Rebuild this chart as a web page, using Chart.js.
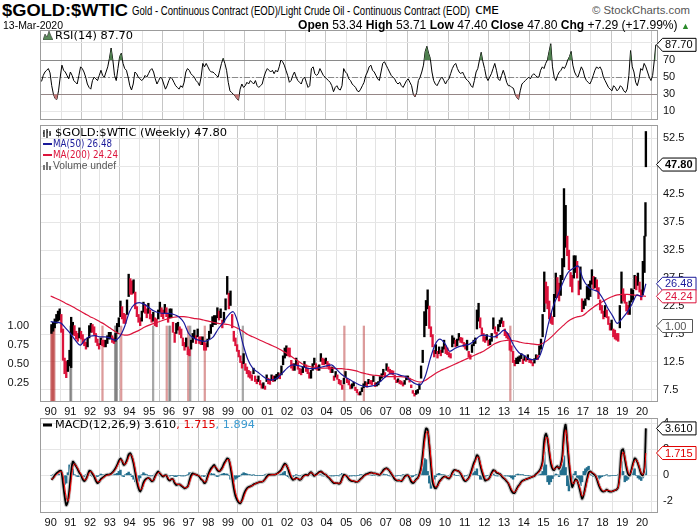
<!DOCTYPE html>
<html>
<head>
<meta charset="utf-8">
<title>$GOLD:$WTIC</title>
<script src="https://cdn.jsdelivr.net/npm/chart.js@4.4.1/dist/chart.umd.min.js"></script>
<style>
  html, body { margin: 0; padding: 0; background: #fff; }
  #page { position: relative; width: 700px; height: 530px; overflow: hidden; font-family: "Liberation Sans", Arial, sans-serif; }
  canvas { position: absolute; left: 0; }
  .txt { position: absolute; white-space: nowrap; transform-origin: 0 50%; line-height: 1; color: #000; }
  .leg { position: absolute; white-space: nowrap; font: 10px "DejaVu Sans", sans-serif; line-height: 1; transform-origin: 0 50%; }
  .ico { position: absolute; }
</style>
</head>
<body>
<div id="page">
  <canvas id="rsiChart" width="700" height="90" style="top:30px"></canvas>
  <canvas id="priceChart" width="700" height="296" style="top:124px"></canvas>
  <canvas id="macdChart" width="700" height="113" style="top:417px"></canvas>

  <div class="txt" data-w="126" style="left:2px;top:3px;font-size:16px;font-weight:bold;">$GOLD:$WTIC</div>
  <div class="txt" data-w="338" style="left:132px;top:5px;font-size:12px;">Gold - Continuous Contract (EOD)/Light Crude Oil - Continuous Contract (EOD)</div>
  <div class="txt" data-w="24" style="left:475px;top:6px;font-size:10px;font-family:'DejaVu Sans Mono',monospace;">CME</div>
  <div class="txt" data-w="98" style="left:592px;top:5px;font-size:11px;color:#555;">&copy; StockCharts.com</div>
  <div class="txt" data-w="60" style="left:3px;top:20px;font-size:11px;">13-Mar-2020</div>
  <div class="txt" data-w="392" style="left:298px;top:19px;font-size:12px;"><b>Open</b> 53.34 <b>High</b> 53.71 <b>Low</b> 47.40 <b>Close</b> 47.80 <b>Chg</b> +7.29 (+17.99%) <span style="color:#2a8a2a;font-size:9px">&#9650;</span></div>

  <svg class="ico" style="left:43px;top:31px" width="10" height="9"><path d="M0 9 L2 3 L4 6 L6 0 L8 5 L10 9 Z" fill="#5a8a5a" stroke="#333" stroke-width="0.6"/></svg>
  <div class="leg" data-w="78" style="left:55px;top:31px;">RSI(14) 87.70</div>

  <svg class="ico" style="left:43px;top:129px" width="10" height="9"><path d="M1 1 V8 M4 0 V9 M7 2 V7 M0 4 H1 M4 3 H5 M7 5 H8" stroke="#000" stroke-width="1.2"/></svg>
  <div class="leg" data-w="172" style="left:55px;top:128px;">$GOLD:$WTIC (Weekly) 47.80</div>
  <svg class="ico" style="left:43px;top:142px" width="10" height="4"><rect x="0" y="1" width="9" height="2" fill="#1a1a9a"/></svg>
  <div class="leg" data-w="59" style="left:53px;top:139px;color:#1a1a9a;">MA(50) 26.48</div>
  <svg class="ico" style="left:43px;top:153px" width="10" height="4"><rect x="0" y="1" width="9" height="2" fill="#dc143c"/></svg>
  <div class="leg" data-w="65" style="left:53px;top:150px;color:#dc143c;">MA(200) 24.24</div>
  <svg class="ico" style="left:43px;top:161px" width="10" height="9"><path d="M1 9 V4 M4 9 V1 M7 9 V5" stroke="#777" stroke-width="2"/></svg>
  <div class="txt" data-w="63" style="left:53px;top:160px;font-size:11px;color:#555;">Volume undef</div>

  <svg class="ico" style="left:43px;top:423px" width="10" height="4"><rect x="0" y="0.5" width="9" height="3" fill="#000"/></svg>
  <div class="leg" data-w="200" style="left:55px;top:420px;">MACD(12,26,9) 3.610<span style="color:#e00000">, 1.715</span><span style="color:#3b9ad0">, 1.894</span></div>
</div>

<script>
// ---------- data ----------
const START = 1990;
const LAST_T = 2020.196;          // 13-Mar-2020
const years = [1990,1991,1992,1993,1994,1995,1996,1997,1998,1999,2000,2001,2002,2003,2004,
               2005,2006,2007,2008,2009,2010,2011,2012,2013,2014,2015,2016,2017,2018,2019,2020];
const priceTicks = [7.5,10,12.5,15,17.5,20,22.5,25,27.5,30,32.5,35,37.5,40,42.5,45,47.5,50,52.5];
const volTicks = [0.25,0.5,0.75,1];
const rsiTicks = [10,20,30,40,50,60,70,80,90,100];
const macdTicks = [-2,-1,0,1,2,3,4];

// monthly low / high of the weekly bars, Jan 1990 .. Feb 2020
const priceLow = [
  17.6,18.0,18.6,19.4,19.8,20.0,17.8,12.8,10.4,9.7,10.8,11.8,
  11.5,17.4,17.2,16.6,16.2,16.8,16.6,15.8,15.4,14.8,15.2,16.8,
  17.8,17.8,17.4,16.0,15.4,14.8,15.6,15.4,15.2,15.2,15.8,16.6,
  16.6,16.0,15.8,16.2,17.6,18.8,20.6,20.2,19.4,19.4,21.0,24.2,
  24.6,24.6,24.8,22.0,20.6,19.6,19.0,19.8,21.4,21.2,20.4,21.2,
  20.2,19.6,19.8,19.0,18.8,20.2,21.4,20.6,20.2,21.2,20.6,19.6,
  20.4,20.4,17.8,16.0,17.6,18.2,17.4,16.8,15.4,14.6,15.2,13.8,
  13.6,14.8,16.0,16.8,15.8,17.0,15.8,15.6,15.6,14.6,14.6,15.2,
  16.6,17.6,18.8,19.2,19.2,20.4,20.0,20.4,18.6,19.6,21.8,24.6,
  22.0,22.6,18.6,16.2,15.4,14.4,13.4,12.4,11.4,12.2,11.0,10.4,
  9.8,9.6,9.2,10.4,9.0,8.6,9.0,8.4,7.8,7.8,7.6,9.0,
  8.6,8.5,9.2,9.0,9.1,9.4,9.6,9.5,10.2,12.0,13.2,13.6,
  13.6,13.4,11.4,11.0,11.0,12.0,11.2,10.4,10.2,10.6,11.6,10.8,
  10.4,9.6,9.6,11.0,12.0,11.2,11.0,11.0,12.6,12.0,12.0,12.2,
  11.6,11.2,10.6,10.6,9.2,9.8,9.4,8.6,8.4,7.6,8.6,9.8,
  8.8,8.4,7.7,7.8,8.2,7.4,7.0,6.6,6.6,7.2,7.9,8.3,
  8.0,8.6,8.6,8.4,9.0,8.1,8.2,8.4,9.0,9.6,10.2,9.8,
  11.0,10.8,10.4,10.3,10.2,9.4,8.8,8.9,8.6,8.5,8.2,8.5,
  9.3,9.4,8.9,7.9,6.9,6.4,6.7,6.9,7.6,9.6,12.4,17.0,
  19.0,22.0,18.5,17.0,15.2,13.4,14.0,13.2,14.0,13.6,14.2,14.8,
  14.0,13.8,13.4,13.2,15.2,15.8,15.2,15.4,16.4,16.0,15.9,15.2,
  14.8,14.6,13.4,13.0,14.2,15.4,15.8,18.4,19.8,18.6,17.4,16.2,
  16.0,16.4,15.4,15.6,16.2,18.4,17.6,16.8,18.0,18.8,19.4,18.8,
  17.2,16.8,16.6,14.6,14.4,12.4,11.8,12.2,12.2,12.6,13.1,12.2,
  12.8,12.6,12.9,12.4,12.3,11.8,12.3,13.0,12.9,13.8,14.8,17.0,
  21.5,23.0,22.0,20.2,19.4,19.2,20.6,24.0,24.0,23.4,24.4,27.2,
  29.5,33.0,31.5,29.0,26.0,25.0,27.5,28.5,27.5,24.5,25.5,21.5,
  22.0,22.6,23.8,23.6,24.2,26.4,25.6,25.8,25.2,23.8,21.8,21.2,
  20.2,20.6,20.4,19.2,18.2,18.2,17.0,16.6,16.4,16.2,18.6,23.0,
  23.4,23.0,21.6,21.0,21.0,23.2,23.6,25.6,25.4,26.2,25.0,23.6,
  24.5,28.5
];
const priceHigh = [
  19.2,19.6,20.2,21.0,21.6,22.0,21.0,18.4,13.2,12.6,12.8,14.6,
  20.5,19.6,19.0,18.0,17.6,18.6,18.0,17.4,16.6,16.0,16.8,19.0,
  19.4,19.2,18.8,17.6,16.6,15.8,16.8,16.4,16.4,16.4,17.2,17.8,
  17.8,17.2,16.8,17.6,19.4,20.4,23.4,22.4,21.2,21.0,23.6,28.2,
  27.4,27.0,27.2,25.0,22.4,21.0,20.4,21.6,23.2,22.8,22.0,23.0,
  21.8,21.0,21.4,20.4,20.2,21.8,23.2,22.2,21.8,22.8,22.2,21.2,
  22.0,22.0,19.6,17.8,19.4,19.6,18.8,18.4,16.8,16.0,16.8,15.2,
  14.8,16.4,17.6,18.2,17.2,18.4,17.0,17.0,17.0,16.0,15.8,16.6,
  18.0,19.2,20.6,20.8,20.8,22.2,21.6,22.0,20.0,21.4,23.8,27.8,
  24.8,25.2,21.0,18.0,16.8,15.6,14.6,13.6,12.6,14.0,12.2,11.6,
  11.0,10.8,10.2,11.4,10.0,9.4,10.0,9.2,8.6,8.8,8.2,10.2,
  9.6,9.4,10.2,10.0,10.0,10.3,10.6,10.4,11.8,13.6,15.0,15.4,
  15.0,15.0,12.8,12.2,12.2,13.2,12.4,11.4,11.2,11.6,12.6,12.0,
  11.4,10.6,11.0,12.2,13.2,12.2,11.8,12.0,14.0,13.2,13.0,13.2,
  12.6,12.2,11.6,11.6,10.0,10.8,10.2,9.4,9.2,8.4,9.6,10.8,
  9.6,9.2,8.4,8.6,8.9,8.0,7.6,7.0,7.2,7.9,8.6,9.0,
  8.8,9.4,9.2,9.2,10.0,8.8,8.8,9.0,9.9,10.4,11.2,10.6,
  12.2,11.6,11.2,11.0,10.9,10.1,9.3,9.5,9.2,9.1,8.8,9.2,
  10.0,10.0,9.6,8.4,7.4,6.9,7.4,7.6,8.6,11.8,14.6,21.5,
  23.5,25.4,22.5,18.8,17.4,14.6,15.6,14.4,15.2,14.6,15.2,16.4,
  15.4,15.0,14.2,14.0,17.2,16.8,16.4,16.6,17.6,16.9,16.8,16.0,
  15.8,16.4,14.4,13.8,15.6,16.4,16.8,21.8,23.0,20.4,18.6,17.6,
  17.0,17.4,16.4,16.6,17.6,20.4,18.8,17.8,19.2,20.0,20.4,19.8,
  18.4,17.8,17.6,16.8,15.4,14.4,12.8,13.2,13.4,13.6,14.0,13.0,
  13.6,13.3,13.8,13.0,12.9,12.4,13.1,13.8,13.7,15.4,16.6,21.0,
  28.6,26.8,26.0,23.4,21.2,20.6,24.6,28.4,27.6,26.6,28.0,31.0,
  43.5,40.5,35.0,32.5,28.5,28.0,31.5,31.5,30.5,27.0,29.5,23.8,
  23.4,23.8,26.0,26.4,27.0,29.0,27.8,27.6,27.2,25.8,23.6,22.6,
  21.6,22.6,21.8,20.6,19.4,20.0,18.4,18.2,17.6,17.6,22.6,28.6,
  25.6,24.6,23.2,22.6,23.4,25.6,25.4,28.0,27.8,28.4,26.8,25.4,
  30.5,35.0
];
// the two weekly bars of March 2020
const lastWeekT = [2020.175, 2020.196];
const lastWeekLow = [35.0, 47.40];
const lastWeekHigh = [41.0, 53.71];

// moving averages, quarterly from 1990.0, last point 13-Mar-2020
const ma50 = [
  19.7,19.6,19.5,18.6, 17.6,16.4,15.5,16.5, 17.1,17.2,17.0,17.0, 16.8,16.4,17.0,18.8,
  21.5,22.8,23.1,22.8, 22.2,21.6,21.3,21.2, 21.2,21.0,20.6,19.6, 17.6,16.8,16.4,16.2,
  16.4,17.0,18.4,19.5, 20.8,21.5,19.5,15.8, 13.0,11.4,10.7,10.0, 9.4,9.3,9.7,10.5,
  11.4,12.0,11.9,11.7, 11.4,11.3,11.4,11.6, 11.8,12.0,11.2,10.3, 9.7,9.2,8.7,8.3,
  8.1,8.2,8.4,9.1, 9.9,10.4,10.4,10.1, 9.9,9.2,8.6,8.4, 9.9,13.0,15.6,16.6,
  15.8,14.4,14.9,15.3, 15.5,15.7,16.3,17.1, 17.3,17.1,17.0,17.5, 18.2,17.2,15.4,14.2,
  13.7,13.1,12.9,13.2, 15.5,19.3,22.5,24.6, 26.8,28.5,29.2,29.7, 27.4,26.0,25.4,25.1,
  23.9,22.2,20.8,19.4, 20.3,21.4,22.9,24.5, 24.2,26.48
];
const ma200 = [
  24.3,23.9,23.5,23.0, 22.6,22.1,21.6,21.1, 20.6,20.2,19.7,19.2, 18.6,18.0,17.5,17.3,
  17.4,17.8,18.2,18.7, 19.1,19.4,19.7,20.0, 20.3,20.5,20.6,20.6, 20.5,20.3,20.2,20.0,
  19.8,19.6,19.4,19.3, 19.2,18.9,18.5,18.0, 17.4,17.0,16.6,16.2, 15.8,15.4,15.0,14.5,
  14.0,13.4,12.8,12.2, 11.8,11.6,11.5,11.4, 11.4,11.4,11.3,11.3, 11.2,11.1,10.9,10.6,
  10.4,10.2,10.1,10.0, 9.9,9.9,9.9,9.9, 9.8,9.5,9.1,8.9, 9.2,9.8,10.4,10.9,
  11.3,11.7,12.1,12.5, 12.9,13.3,13.7,14.1, 14.5,15.1,15.7,16.1, 16.3,16.4,16.3,16.1,
  15.9,15.8,15.7,15.6, 15.9,16.5,17.3,18.2, 19.0,19.8,20.3,20.6, 20.8,21.5,22.2,22.8,
  23.3,23.8,24.2,24.5, 24.6,24.6,24.5,24.4, 24.3,24.24
];

// weeks with a (dummy) volume of 1, up = true
const volT = [1990.03,1990.07,1990.11,1990.15,1990.19,1991.0,1991.04,1992.63,1993.27,1993.31,1993.36,
              1993.58,1995.2,1995.89,1996.02,1996.06,1996.98,1997.08,1997.82,1999.75,2004.9,2005.89,2013.32];
const volUp = [false,false,false,false,false,true,true,false,true,true,true,
               false,true,false,true,true,false,true,false,true,false,false,false];

// RSI(14), monthly, Jan 1990 .. Mar 2020
const rsi = [
  45,52,56,58,60,55,40,30,25,24,34,50,
  64,58,56,52,48,56,52,46,44,42,52,62,
  60,56,50,42,38,36,46,50,48,46,52,58,
  52,50,56,62,72,84,70,52,46,60,74,78,
  66,60,58,50,40,35,42,56,54,50,48,46,
  48,52,50,54,58,60,56,48,42,46,50,48,
  42,36,40,46,50,48,44,40,38,36,40,38,
  44,56,60,58,54,52,50,46,44,40,50,66,
  62,66,62,58,56,56,54,52,50,58,66,72,
  66,58,44,34,32,30,28,25,23,36,42,38,
  40,44,42,46,44,42,46,40,38,40,42,50,
  56,60,58,56,58,54,58,56,62,70,68,64,
  58,52,44,46,52,56,50,46,44,42,48,50,
  44,38,40,60,62,54,52,54,60,56,52,50,
  48,46,44,40,33,38,40,36,35,40,60,56,
  54,48,46,42,40,38,34,33,36,40,44,52,
  56,62,64,58,56,52,48,46,56,66,68,64,
  60,56,52,50,48,44,42,44,40,38,42,46,
  48,44,40,30,27,32,46,50,56,64,80,86,
  78,72,56,46,42,40,44,48,50,46,42,46,
  48,54,60,64,66,60,56,54,56,52,48,46,
  44,40,38,46,56,60,70,79,68,60,50,46,
  50,54,60,66,58,48,46,52,58,52,44,40,
  40,38,37,30,26,24,34,42,44,46,48,50,
  48,52,54,52,50,50,58,62,60,66,70,80,
  89,62,50,46,52,56,58,62,60,64,70,74,
  80,64,56,52,50,56,62,58,50,46,44,42,
  46,52,58,62,60,62,58,50,46,42,38,36,
  34,40,38,34,36,40,38,34,32,36,52,81,
  62,56,44,40,48,60,58,66,62,56,50,46,
  52,70,87.7
];

// MACD(12,26,9), monthly, Jan 1990 .. Mar 2020
const macd = [
  -0.35,-0.2,0.0,0.15,0.25,0.35,0.3,-0.6,-1.6,-2.3,-2.0,-1.0,
  0.3,1.05,0.9,0.7,0.45,0.2,0.0,-0.3,-0.45,-0.3,0.0,0.35,
  0.3,0.1,-0.1,-0.4,-0.6,-0.5,-0.3,-0.2,-0.1,0.0,0.05,0.05,
  0.1,0.2,0.35,0.55,0.8,1.1,1.3,1.1,0.8,0.9,1.2,1.6,
  1.7,1.4,0.9,0.2,-0.5,-1.0,-1.25,-1.0,-0.55,-0.35,-0.25,-0.2,
  -0.3,-0.45,-0.4,-0.1,0.15,0.3,0.15,0.0,-0.1,0.0,0.0,-0.3,
  -0.4,-0.3,-0.3,-0.6,-0.75,-0.7,-0.7,-0.8,-0.9,-1.0,-0.95,-0.85,
  -0.4,0.0,0.15,0.1,0.05,0.0,-0.1,-0.3,-0.4,-0.6,-0.5,-0.1,
  0.25,0.5,0.65,0.8,0.6,0.4,0.3,0.4,0.6,0.9,1.1,1.3,
  1.2,0.6,-0.2,-1.0,-1.6,-1.9,-2.1,-2.15,-1.9,-1.5,-1.2,-1.0,
  -0.9,-0.85,-0.8,-0.7,-0.65,-0.6,-0.55,-0.5,-0.5,-0.45,-0.3,-0.1,
  0.05,0.05,0.05,0.05,0.05,0.1,0.2,0.3,0.45,0.7,0.9,0.8,
  0.5,0.1,-0.2,-0.35,-0.3,-0.2,-0.25,-0.35,-0.3,-0.1,0.0,0.05,
  0.0,0.15,0.25,0.1,-0.05,0.05,0.15,0.25,0.3,0.2,0.1,0.05,
  -0.1,-0.2,-0.35,-0.5,-0.6,-0.6,-0.6,-0.65,-0.55,-0.2,0.05,0.0,
  -0.1,-0.3,-0.4,-0.45,-0.45,-0.5,-0.5,-0.45,-0.3,-0.2,-0.05,0.05,
  0.1,0.15,0.2,0.2,0.15,0.15,0.1,0.05,0.05,0.2,0.4,0.5,
  0.55,0.45,0.3,0.1,-0.1,-0.3,-0.4,-0.4,-0.4,-0.45,-0.3,-0.1,
  0.0,0.0,-0.2,-0.5,-0.6,-0.5,-0.3,-0.2,0.1,0.6,1.6,2.9,
  3.6,3.5,2.3,0.8,-0.5,-0.9,-1.0,-0.8,-0.5,-0.35,-0.2,-0.1,
  -0.1,-0.2,-0.25,-0.1,0.2,0.4,0.4,0.35,0.3,0.15,-0.1,-0.35,
  -0.45,-0.35,-0.2,0.1,0.5,0.9,1.2,1.55,1.4,0.8,0.3,-0.1,
  -0.4,-0.35,-0.3,-0.1,0.2,0.4,0.35,0.2,0.15,0.1,-0.05,-0.2,
  -0.3,-0.45,-0.6,-0.9,-1.2,-1.35,-1.35,-1.1,-0.85,-0.7,-0.5,-0.4,
  -0.35,-0.3,-0.25,-0.2,-0.15,-0.1,-0.05,0.1,0.2,0.35,0.6,1.1,
  2.7,3.2,2.8,1.8,0.9,0.5,0.4,0.6,0.7,0.5,0.8,1.5,
  3.3,3.9,2.5,1.0,-0.2,-0.9,-0.6,-0.3,-0.4,-0.8,-1.3,-1.8,
  -1.5,-0.9,-0.3,0.2,0.3,0.2,0.1,0.0,-0.3,-0.7,-1.0,-1.2,
  -1.25,-1.2,-1.1,-1.2,-1.25,-1.25,-1.2,-1.15,-1.1,-0.9,0.2,1.9,
  2.0,1.3,0.6,0.1,0.0,0.4,0.9,1.3,1.2,0.9,0.5,0.1,
  0.0,0.6,3.61
];
const signal = [
  -0.3,-0.25,-0.1,0.05,0.15,0.25,0.3,0.0,-0.9,-1.7,-2.0,-1.5,
  -0.4,0.6,0.9,0.75,0.55,0.3,0.1,-0.15,-0.35,-0.35,-0.1,0.2,
  0.3,0.2,0.0,-0.25,-0.5,-0.5,-0.4,-0.25,-0.15,-0.05,0.0,0.05,
  0.05,0.15,0.3,0.45,0.7,0.95,1.2,1.15,0.9,0.85,1.05,1.4,
  1.6,1.5,1.1,0.5,-0.2,-0.75,-1.1,-1.05,-0.75,-0.45,-0.3,-0.2,
  -0.25,-0.4,-0.4,-0.2,0.05,0.2,0.2,0.05,-0.05,-0.05,0.0,-0.2,
  -0.35,-0.3,-0.3,-0.5,-0.65,-0.7,-0.7,-0.75,-0.85,-0.95,-0.95,-0.9,
  -0.6,-0.2,0.05,0.1,0.05,0.0,-0.05,-0.2,-0.35,-0.5,-0.5,-0.25,
  0.1,0.35,0.55,0.7,0.65,0.5,0.35,0.35,0.5,0.75,1.0,1.2,
  1.2,0.85,0.2,-0.6,-1.3,-1.7,-2.0,-2.1,-2.0,-1.7,-1.35,-1.1,
  -0.95,-0.9,-0.8,-0.75,-0.65,-0.6,-0.55,-0.5,-0.5,-0.45,-0.35,-0.2,
  -0.05,0.0,0.05,0.05,0.05,0.1,0.15,0.25,0.35,0.6,0.8,0.8,
  0.6,0.3,-0.05,-0.25,-0.3,-0.25,-0.25,-0.3,-0.3,-0.15,-0.05,0.0,
  0.0,0.1,0.2,0.15,0.0,0.0,0.1,0.2,0.25,0.25,0.15,0.05,
  -0.05,-0.15,-0.3,-0.45,-0.55,-0.6,-0.6,-0.6,-0.6,-0.35,-0.05,0.0,
  -0.05,-0.2,-0.35,-0.4,-0.45,-0.45,-0.5,-0.45,-0.35,-0.25,-0.1,0.0,
  0.05,0.1,0.15,0.2,0.15,0.15,0.1,0.1,0.05,0.15,0.3,0.45,
  0.5,0.45,0.35,0.15,-0.05,-0.2,-0.35,-0.4,-0.4,-0.4,-0.35,-0.15,
  -0.05,0.0,-0.1,-0.35,-0.5,-0.5,-0.35,-0.25,0.0,0.4,1.2,2.4,
  3.2,3.4,2.7,1.3,0.0,-0.7,-0.9,-0.85,-0.6,-0.4,-0.25,-0.15,
  -0.1,-0.15,-0.2,-0.15,0.1,0.3,0.4,0.35,0.3,0.2,0.0,-0.25,
  -0.4,-0.35,-0.25,0.0,0.35,0.75,1.05,1.4,1.4,1.0,0.5,0.1,
  -0.25,-0.35,-0.3,-0.15,0.1,0.3,0.35,0.25,0.2,0.1,0.0,-0.15,
  -0.25,-0.4,-0.55,-0.8,-1.05,-1.25,-1.3,-1.15,-0.95,-0.75,-0.55,-0.45,
  -0.35,-0.3,-0.25,-0.2,-0.15,-0.1,-0.05,0.05,0.15,0.3,0.5,0.9,
  2.0,2.9,2.9,2.1,1.2,0.7,0.45,0.55,0.65,0.55,0.7,1.2,
  2.6,3.5,2.9,1.5,0.3,-0.6,-0.65,-0.4,-0.4,-0.7,-1.1,-1.6,
  -1.5,-1.1,-0.5,0.0,0.25,0.25,0.15,0.05,-0.2,-0.55,-0.9,-1.1,
  -1.2,-1.2,-1.15,-1.15,-1.2,-1.25,-1.2,-1.15,-1.1,-0.95,-0.15,1.3,
  1.8,1.5,0.85,0.3,0.05,0.3,0.75,1.15,1.2,1.0,0.6,0.2,
  0.05,0.4,1.715
];
const hist = [
  0.0,0.05,0.1,0.1,0.1,0.1,0.0,-0.5,-0.7,-0.6,0.2,0.8,
  0.9,0.5,0.05,-0.05,-0.1,-0.1,-0.1,-0.15,-0.1,0.05,0.1,0.15,
  0.0,-0.1,-0.1,-0.15,-0.1,0.0,0.1,0.05,0.05,0.05,0.05,0.0,
  0.05,0.05,0.05,0.1,0.15,0.3,0.4,-0.05,-0.1,0.05,0.15,0.25,
  0.1,-0.1,-0.3,-0.5,-0.6,-0.45,-0.2,0.05,0.2,0.1,0.05,0.0,
  -0.05,-0.05,0.0,0.1,0.1,0.1,-0.05,-0.05,-0.05,0.05,0.0,-0.1,
  -0.05,0.0,0.0,-0.1,-0.1,0.0,0.0,-0.05,-0.05,-0.05,0.0,0.05,
  0.2,0.2,0.1,0.0,0.0,0.0,-0.05,-0.1,-0.05,-0.1,0.0,0.15,
  0.15,0.15,0.1,0.1,-0.05,-0.1,-0.05,0.05,0.1,0.15,0.1,0.1,
  0.0,-0.3,-0.6,-0.5,-0.3,-0.2,-0.1,-0.05,0.1,0.2,0.15,0.1,
  0.05,0.05,0.0,0.05,0.0,0.0,0.0,0.0,0.0,0.0,0.05,0.1,
  0.1,0.05,0.0,0.0,0.0,0.0,0.05,0.05,0.1,0.2,0.3,0.0,
  -0.1,-0.2,-0.15,-0.1,0.0,0.05,0.0,-0.05,0.0,0.05,0.05,0.05,
  0.0,0.05,0.05,-0.05,-0.05,0.05,0.05,0.05,0.05,-0.05,-0.05,0.0,
  -0.05,-0.05,-0.05,-0.05,-0.05,0.0,0.0,-0.05,0.05,0.15,0.1,0.0,
  -0.05,-0.1,-0.05,-0.05,0.0,-0.05,0.0,0.0,0.05,0.05,0.05,0.05,
  0.05,0.05,0.05,0.0,0.0,0.0,0.0,-0.05,0.0,0.05,0.1,0.05,
  0.05,0.0,-0.05,-0.05,-0.05,-0.1,-0.05,0.0,0.0,-0.05,0.05,0.05,
  0.05,0.0,-0.1,-0.15,-0.1,0.0,0.05,0.05,0.15,0.4,0.9,1.3,
  1.2,0.3,-0.6,-1.0,-0.7,-0.3,-0.1,0.1,0.15,0.05,0.05,0.05,
  0.0,-0.05,-0.05,0.05,0.1,0.1,0.0,0.0,0.0,-0.05,-0.1,-0.1,
  -0.05,0.0,0.05,0.1,0.15,0.2,0.3,0.5,0.0,-0.3,-0.3,-0.2,
  -0.15,0.0,0.0,0.05,0.1,0.1,0.0,-0.05,-0.05,0.0,-0.05,-0.05,
  -0.05,-0.05,-0.05,-0.1,-0.2,-0.3,-0.1,0.05,0.1,0.05,0.05,0.05,
  0.0,0.0,0.0,0.0,0.0,0.0,0.0,0.05,0.05,0.05,0.1,0.3,
  1.8,0.8,-0.5,-0.7,-0.5,-0.25,-0.05,0.1,0.05,-0.1,0.4,1.2,
  1.5,0.6,-0.8,-1.2,-0.9,-0.5,0.1,0.3,-0.2,-0.6,-0.8,-0.5,
  0.3,0.5,0.6,0.7,0.3,0.0,-0.1,-0.1,-0.2,-0.3,-0.2,-0.1,
  -0.05,0.0,0.05,-0.05,-0.05,0.0,0.0,0.0,0.0,0.05,0.5,1.05,
  0.3,-0.5,-0.4,-0.3,-0.1,0.4,0.6,0.5,0.0,-0.2,-0.3,-0.4,
  -0.2,0.4,1.894
];

// ---------- helpers ----------
const X_MIN = 1989.966, X_MAX = 2020.305;
const AX_FONT = '"Liberation Sans", Arial, sans-serif';
const RED = '#dc143c', BLUE = '#1a1a9a';

const monthT = i => (i >= 362 ? LAST_T : START + (i + 0.5) / 12);
const quarterT = i => (i >= 120 ? (i === 120 ? 2020.0 : LAST_T) : START + i / 4);
const series = (vals, tf) => vals.map((v, i) => ({x: tf(i), y: v}));

Chart.defaults.font.family = AX_FONT;
Chart.defaults.animation = false;

function xAxis(showLabels, height) {
  return {
    type: 'linear', min: X_MIN, max: X_MAX,
    afterBuildTicks: s => { s.ticks = years.map(v => ({value: v})); },
    ticks: {
      display: showLabels, autoSkip: false, maxRotation: 0, padding: 3,
      color: '#111', font: {size: 11},
      callback: v => String(v % 100).padStart(2, '0')
    },
    grid: { color: c => (c.tick && c.tick.value % 2 === 0) ? '#c6c6c6' : '#e3e3e3', drawTicks: false },
    border: { display: false },
    afterFit: s => { s.height = height; s.paddingLeft = 0; s.paddingRight = 0; }
  };
}
function rightAxis(min, max, ticks, fmt, gridColor) {
  return {
    position: 'right', min: min, max: max,
    afterBuildTicks: s => { s.ticks = ticks.map(v => ({value: v})); },
    ticks: { padding: 5, color: '#111', font: {size: 11}, callback: fmt },
    grid: { color: gridColor || '#e6e6e6', drawTicks: false },
    border: { display: false },
    afterFit: s => { s.width = 42; s.paddingTop = 0; s.paddingBottom = 0; }
  };
}

function drawTag(ctx, x0, yc, t) {
  ctx.font = (t.bold ? 'bold ' : '') + '11px ' + AX_FONT;
  const w = Math.max(30, ctx.measureText(t.text).width + 6);
  const h = 13;
  ctx.beginPath();
  ctx.moveTo(x0 - 1.5, yc);
  ctx.lineTo(x0 + 4.5, yc - h / 2);
  ctx.lineTo(x0 + 4.5 + w, yc - h / 2);
  ctx.lineTo(x0 + 4.5 + w, yc + h / 2);
  ctx.lineTo(x0 + 4.5, yc + h / 2);
  ctx.closePath();
  ctx.fillStyle = '#fff';
  ctx.fill();
  ctx.strokeStyle = t.color;
  ctx.lineWidth = 1;
  ctx.stroke();
  ctx.fillStyle = t.color;
  ctx.textBaseline = 'middle';
  ctx.textAlign = 'left';
  ctx.fillText(t.text, x0 + 7, yc + 0.5);
}

const panelPlugin = {
  id: 'panel',
  beforeDatasetsDraw(chart, args, opts) {
    const {ctx, chartArea: a} = chart;
    (opts.refLines || []).forEach(r => {
      const y = Math.round(chart.scales.y.getPixelForValue(r.value)) + 0.5;
      ctx.save();
      ctx.strokeStyle = r.color;
      ctx.lineWidth = 1;
      ctx.setLineDash(r.dash || []);
      ctx.beginPath();
      ctx.moveTo(a.left, y);
      ctx.lineTo(a.right, y);
      ctx.stroke();
      ctx.restore();
    });
  },
  afterDraw(chart, args, opts) {
    const {ctx, chartArea: a} = chart;
    ctx.save();
    ctx.strokeStyle = '#9c9c9c';
    ctx.lineWidth = 1;
    ctx.strokeRect(a.left + 0.5, a.top + 0.5, a.right - a.left - 1, a.bottom - a.top - 1);
    (opts.tags || []).forEach(t => drawTag(ctx, a.right, chart.scales[t.axis].getPixelForValue(t.value), t));
    ctx.restore();
  }
};
Chart.register(panelPlugin);

const noPlugins = { legend: {display: false}, tooltip: {enabled: false} };

// ---------- RSI ----------
const rsiData = series(rsi, monthT);
new Chart(document.getElementById('rsiChart'), {
  type: 'line',
  data: {
    datasets: [
      { data: rsiData, borderWidth: 0, pointRadius: 0, fill: {target: {value: 70}, above: '#4f7f4f', below: 'rgba(0,0,0,0)'} },
      { data: rsiData, borderWidth: 0, pointRadius: 0, fill: {target: {value: 30}, above: 'rgba(0,0,0,0)', below: '#c47878'} },
      { data: rsiData, borderColor: '#000', borderWidth: 1, pointRadius: 0, fill: false }
    ]
  },
  options: {
    responsive: false,
    layout: { padding: {left: 40, top: 0, right: 0, bottom: 0} },
    scales: {
      x: xAxis(false, 0),
      y: rightAxis(0, 105, rsiTicks, v => ([10, 30, 50, 70].includes(v) ? String(v) : ''), '#e6e6e6')
    },
    plugins: Object.assign({
      panel: {
        refLines: [
          {value: 70, color: '#8a8a8a'},
          {value: 30, color: '#8a8a8a'},
          {value: 50, color: '#8a8a8a', dash: [6, 2, 2, 2]}
        ],
        tags: [{axis: 'y', value: 87.7, text: '87.70', color: '#000'}]
      }
    }, noPlugins)
  }
});

// ---------- price ----------
const mids = priceLow.map((lo, i) => (lo + priceHigh[i]) / 2);
const priceBars = priceLow.map((lo, i) => ({x: monthT(i), y: [lo, priceHigh[i]]}))
  .concat(lastWeekT.map((t, i) => ({x: t, y: [lastWeekLow[i], lastWeekHigh[i]]})));
const priceMids = mids.concat(lastWeekLow.map((lo, i) => (lo + lastWeekHigh[i]) / 2));
const priceColors = priceMids.map((m, i) => (i === 0 || m >= priceMids[i - 1]) ? '#000' : RED);

new Chart(document.getElementById('priceChart'), {
  type: 'bar',
  data: {
    datasets: [
      { type: 'bar', yAxisID: 'vol', order: 10, data: volT.map(t => ({x: t, y: 1})),
        backgroundColor: volUp.map(u => u ? 'rgba(110,110,110,0.6)' : 'rgba(185,55,55,0.5)'),
        barThickness: 1.6, grouped: false },
      { type: 'bar', yAxisID: 'y', order: 5, data: priceBars, backgroundColor: priceColors,
        barThickness: 1.7, grouped: false, borderWidth: 0 },
      { type: 'line', yAxisID: 'y', order: 2, data: series(ma200, quarterT), borderColor: RED,
        borderWidth: 1.2, pointRadius: 0, cubicInterpolationMode: 'monotone' },
      { type: 'line', yAxisID: 'y', order: 1, data: series(ma50, quarterT), borderColor: BLUE,
        borderWidth: 1.2, pointRadius: 0, cubicInterpolationMode: 'monotone' }
    ]
  },
  options: {
    responsive: false,
    layout: { padding: {left: 0, top: 1, right: 0, bottom: 0} },
    scales: {
      x: xAxis(true, 18),
      y: rightAxis(5.346, 54.87, priceTicks, v => v.toFixed(1)),
      vol: {
        position: 'left', min: 0, max: 3.645,
        afterBuildTicks: s => { s.ticks = volTicks.map(v => ({value: v})); },
        ticks: { padding: 3, color: '#111', font: {size: 11}, callback: v => v.toFixed(2) },
        grid: { display: false },
        border: { display: false },
        afterFit: s => { s.width = 40; s.paddingTop = 0; s.paddingBottom = 0; }
      }
    },
    plugins: Object.assign({
      panel: {
        tags: [
          {axis: 'y', value: 47.8, text: '47.80', color: '#000', bold: true},
          {axis: 'y', value: 26.48, text: '26.48', color: BLUE},
          {axis: 'y', value: 24.24, text: '24.24', color: RED},
          {axis: 'vol', value: 1, text: '1.00', color: '#555'}
        ]
      }
    }, noPlugins)
  }
});

// ---------- MACD ----------
const macdData = series(macd, monthT);
new Chart(document.getElementById('macdChart'), {
  type: 'bar',
  data: {
    datasets: [
      { type: 'bar', order: 10, data: series(hist, monthT), backgroundColor: '#236f8e',
        barThickness: 1.8, grouped: false, borderWidth: 0 },
      { type: 'line', order: 5, data: macdData, borderColor: '#c8c8c8', borderWidth: 4,
        pointRadius: 0, tension: 0.3 },
      { type: 'line', order: 3, data: macdData, borderColor: '#000', borderWidth: 1.8,
        pointRadius: 0, tension: 0.3 },
      { type: 'line', order: 1, data: series(signal, monthT), borderColor: '#ff0000', borderWidth: 1,
        pointRadius: 0, tension: 0.3 }
    ]
  },
  options: {
    responsive: false,
    layout: { padding: {left: 40, top: 1, right: 0, bottom: 0} },
    scales: {
      x: xAxis(true, 17),
      y: rightAxis(-2.9, 4.41, macdTicks, v => String(v))
    },
    plugins: Object.assign({
      panel: {
        tags: [
          {axis: 'y', value: 3.61, text: '3.610', color: '#000'},
          {axis: 'y', value: 1.715, text: '1.715', color: '#e00000'}
        ]
      }
    }, noPlugins)
  }
});

// squeeze the header and legend texts to the widths they have in the reference
document.querySelectorAll('[data-w]').forEach(el => {
  const w = el.getBoundingClientRect().width;
  if (w > 0) el.style.transform = 'scaleX(' + (el.dataset.w / w) + ')';
});
</script>
</body>
</html>
